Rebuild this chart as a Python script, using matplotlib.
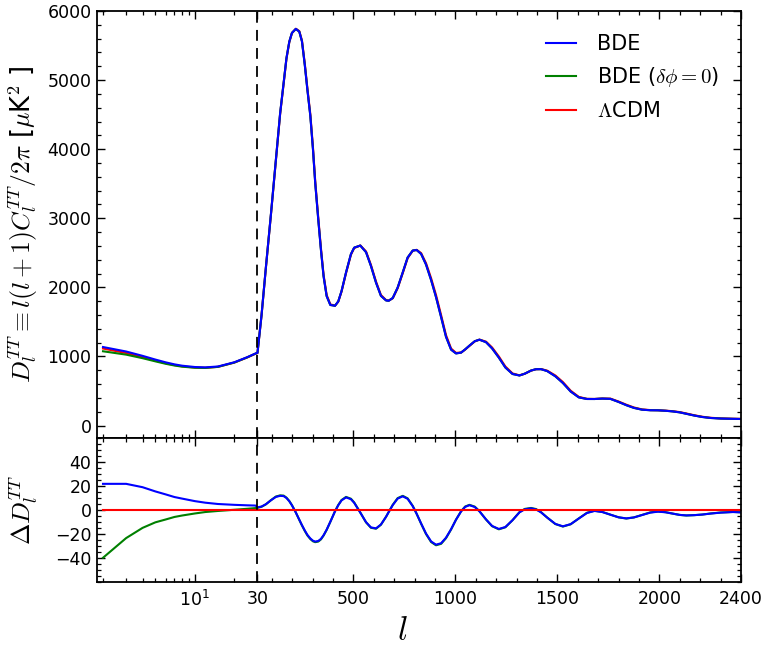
import numpy as np
import matplotlib
matplotlib.use("Agg")
import matplotlib.pyplot as plt
from matplotlib.ticker import FixedLocator, FixedFormatter, MultipleLocator

# ---------------- data ----------------
ell = [2, 3, 4, 5, 6, 7, 8, 10, 12, 15, 20, 25, 29,
       30, 50, 71, 96, 120, 141, 158, 172, 186, 199, 218, 235, 248, 262, 275, 289, 302, 313,
       328, 341, 354, 369, 387, 410, 426, 442, 464, 488, 504, 534, 562, 586, 611, 635, 660,
       673, 693, 717, 742, 766, 791, 810, 832, 856, 881, 905, 930, 954, 979, 1003, 1028, 1048,
       1069, 1095, 1118, 1150, 1180, 1213, 1245, 1280, 1314, 1340, 1371, 1395, 1420, 1450,
       1490, 1527, 1565, 1605, 1645, 1682, 1720, 1760, 1800, 1838, 1875, 1915, 1955, 1993,
       2030, 2065, 2100, 2132, 2170, 2210, 2250, 2300, 2361, 2400]

dl_lcdm = [1115, 1050, 990, 940, 902, 875, 857, 840, 836, 850, 912, 985, 1040,
           1050, 1599, 2278, 3053, 3829, 4507, 4943, 5307, 5549, 5680, 5743, 5709, 5573, 5234,
           4871, 4507, 4023, 3538,
           3005, 2569, 2181, 1890, 1755, 1735, 1793, 1938, 2205, 2472, 2569, 2607, 2520, 2326,
           2084, 1890, 1817,
           1808, 1842, 1987, 2205, 2423, 2530, 2544, 2496, 2351, 2133, 1890, 1599, 1309, 1115,
           1052, 1057, 1100,
           1153, 1218, 1244, 1215, 1130, 1000, 855, 755, 727, 750, 795, 815, 818, 795,
           725, 630, 505, 415, 387, 385, 392, 390, 348, 302, 262, 234, 224, 222,
           216, 208, 195, 175, 150, 128, 113, 104, 99, 97]

delta_bde = [21.8, 21.8, 19.0, 15.5, 13.0, 10.8, 9.5, 7.4, 6.1, 5.0, 4.3, 3.9, 3.7,
             2.2, 2.9, 4.8, 8.1, 10.9, 11.8, 11.6, 10.0, 7.3, 3.9, -2.1, -8.1, -12.6, -17.1,
             -20.8, -23.7, -25.6, -26.3,
             -25.8, -24.1, -21.0, -16.4, -9.8, -1.1, 4.0, 8.0, 10.5, 9.0, 6.0, -2.2, -10.1, -14.5,
             -15.3, -12.1, -5.7,
             -1.8, 4.1, 9.5, 11.4, 9.3, 3.2, -3.1, -11.2, -19.6, -26.2, -28.9, -27.7, -23.1, -16.0,
             -8.1, -1.2, 2.6,
             4.0, 2.5, -1.1, -7.8, -13.3, -15.8, -14.2, -8.5, -2.0, 0.6, 1.4, 0.5, -2.0, -6.3,
             -11.6, -13.6, -11.8, -7.1, -2.5, -0.8, -1.7, -3.9, -6.1, -7.0, -6.2, -4.2, -2.2, -1.4,
             -1.9, -3.0, -4.1, -4.5, -4.3, -3.8, -3.0, -2.2, -1.7, -2.0]

delta_bde_nopert = [-39.8, -23.4, -14.9, -10.3, -7.9, -5.8, -4.6, -2.9, -1.7, -0.8, 0.2, 1.0, 1.6,
                    1.8, 2.7, 4.7, 8.2, 11.2, 12.2, 12.0, 10.3, 7.5, 4.0, -2.1, -8.3, -12.9, -17.5,
                    -21.3, -24.2, -26.1, -26.8,
                    -26.3, -24.5, -21.3, -16.6, -9.9, -1.0, 4.2, 8.3, 10.9, 9.4, 6.3, -2.1, -10.3,
                    -14.8, -15.6, -12.3, -5.7,
                    -1.7, 4.3, 9.9, 11.8, 9.7, 3.4, -3.1, -11.4, -20.0, -26.7, -29.4, -28.2, -23.5,
                    -16.2, -8.1, -1.0, 2.9,
                    4.3, 2.8, -1.0, -7.9, -13.5, -16.1, -14.4, -8.5, -1.8, 0.9, 1.7, 0.8, -1.8, -6.3,
                    -11.7, -13.8, -11.9, -7.0, -2.3, -0.6, -1.6, -3.9, -6.1, -7.1, -6.2, -4.1, -2.0,
                    -1.2, -1.8, -3.0, -4.1, -4.6, -4.3, -3.8, -2.9, -2.1, -1.6, -1.9]

delta_lcdm = [0.0] * len(ell)

labels = ["BDE", r"BDE ($\delta\phi=0$)", r"$\Lambda$CDM"]
x_major = [10, 30, 500, 1000, 1500, 2000, 2400]
x_major_labels = [r"$\mathdefault{10^{1}}$", "30", "500", "1000", "1500", "2000", "2400"]
x_minor = [2, 3, 4, 5, 6, 7, 8, 9, 20] + [100 * k for k in range(1, 24) if (100 * k) % 500 != 0]
l_split = 30

# ---------------- styling ----------------
plt.rcParams.update({
    "font.family": ["DejaVu Sans"],
    "mathtext.fontset": "cm",
    "font.size": 12.5,
    "axes.linewidth": 1.3,
    "xtick.direction": "in", "ytick.direction": "in",
    "xtick.top": True, "ytick.right": True,
    "xtick.major.size": 6, "ytick.major.size": 6,
    "xtick.minor.size": 3.2, "ytick.minor.size": 3.2,
    "xtick.major.width": 1.0, "ytick.major.width": 1.0,
    "xtick.minor.width": 0.9, "ytick.minor.width": 0.9,
    "xtick.major.pad": 6, "ytick.major.pad": 4,
    "axes.unicode_minus": True,
})

A = 643.8


def fwd(l):
    l = np.asarray(l, dtype=float)
    return np.where(l < l_split, A * np.log10(np.clip(l, 1e-3, None) / l_split), l - l_split)


def inv(x):
    x = np.asarray(x, dtype=float)
    return np.where(x < 0, l_split * 10 ** (np.clip(x, -1e4, 0) / A), x + l_split)


ell_a = np.array(ell, dtype=float)
lcdm = np.array(dl_lcdm, dtype=float)
d_b = np.array(delta_bde)
d_g = np.array(delta_bde_nopert)

fig = plt.figure(figsize=(7.70, 6.49), dpi=100)
ax1 = fig.add_axes([97 / 770, (649 - 438) / 649, 644 / 770, 427 / 649])
ax2 = fig.add_axes([97 / 770, (649 - 582) / 649, 644 / 770, 144 / 649])

lw = 1.5
for ax in (ax1, ax2):
    ax.set_xscale("function", functions=(fwd, inv))
    ax.set_xlim(1.8, 2400)
    ax.xaxis.set_major_locator(FixedLocator(x_major))
    ax.xaxis.set_minor_locator(FixedLocator(x_minor))

# top panel
l_r, = ax1.plot(ell_a, lcdm, color="r", lw=lw)
l_g, = ax1.plot(ell_a, lcdm + d_g, color="g", lw=lw)
l_b, = ax1.plot(ell_a, lcdm + d_b, color="b", lw=lw)
ax1.axvline(l_split, color="k", ls=(0, (6, 4)), lw=1.3)
ax1.set_ylim(-180, 6000)
ax1.yaxis.set_major_locator(MultipleLocator(1000))
ax1.yaxis.set_minor_locator(MultipleLocator(200))
ax1.xaxis.set_major_formatter(FixedFormatter([""] * len(x_major)))
ax1.set_ylabel(r"$D_l^{TT}\equiv l(l+1)C_l^{TT}/2\pi$ [$\mu$K$^2$ ]", fontsize=18.5)
ax1.yaxis.set_label_coords(-0.0885, 0.5)
ax1.legend([l_b, l_g, l_r], labels, loc="upper right", frameon=False, fontsize=15,
           handlelength=1.45, handletextpad=1.0, labelspacing=0.55,
           bbox_to_anchor=(0.995, 0.99))

# bottom panel
ax2.plot(ell_a, d_g, color="g", lw=lw)
ax2.plot(ell_a, d_b, color="b", lw=lw)
ax2.plot(ell_a, delta_lcdm, color="r", lw=lw)
ax2.axvline(l_split, color="k", ls=(0, (6, 4)), lw=1.3)
ax2.set_ylim(-60, 60)
ax2.yaxis.set_major_locator(FixedLocator([-40, -20, 0, 20, 40]))
ax2.yaxis.set_minor_locator(MultipleLocator(5))
ax2.xaxis.set_major_formatter(FixedFormatter(x_major_labels))
ax2.set_ylabel(r"$\Delta D_l^{TT}$", fontsize=18.5)
ax2.yaxis.set_label_coords(-0.0885, 0.5)
ax2.set_xlabel(r"$l$", fontsize=24)
ax2.xaxis.set_label_coords(0.474, -0.22)

fig.savefig("out.png", dpi=100)
